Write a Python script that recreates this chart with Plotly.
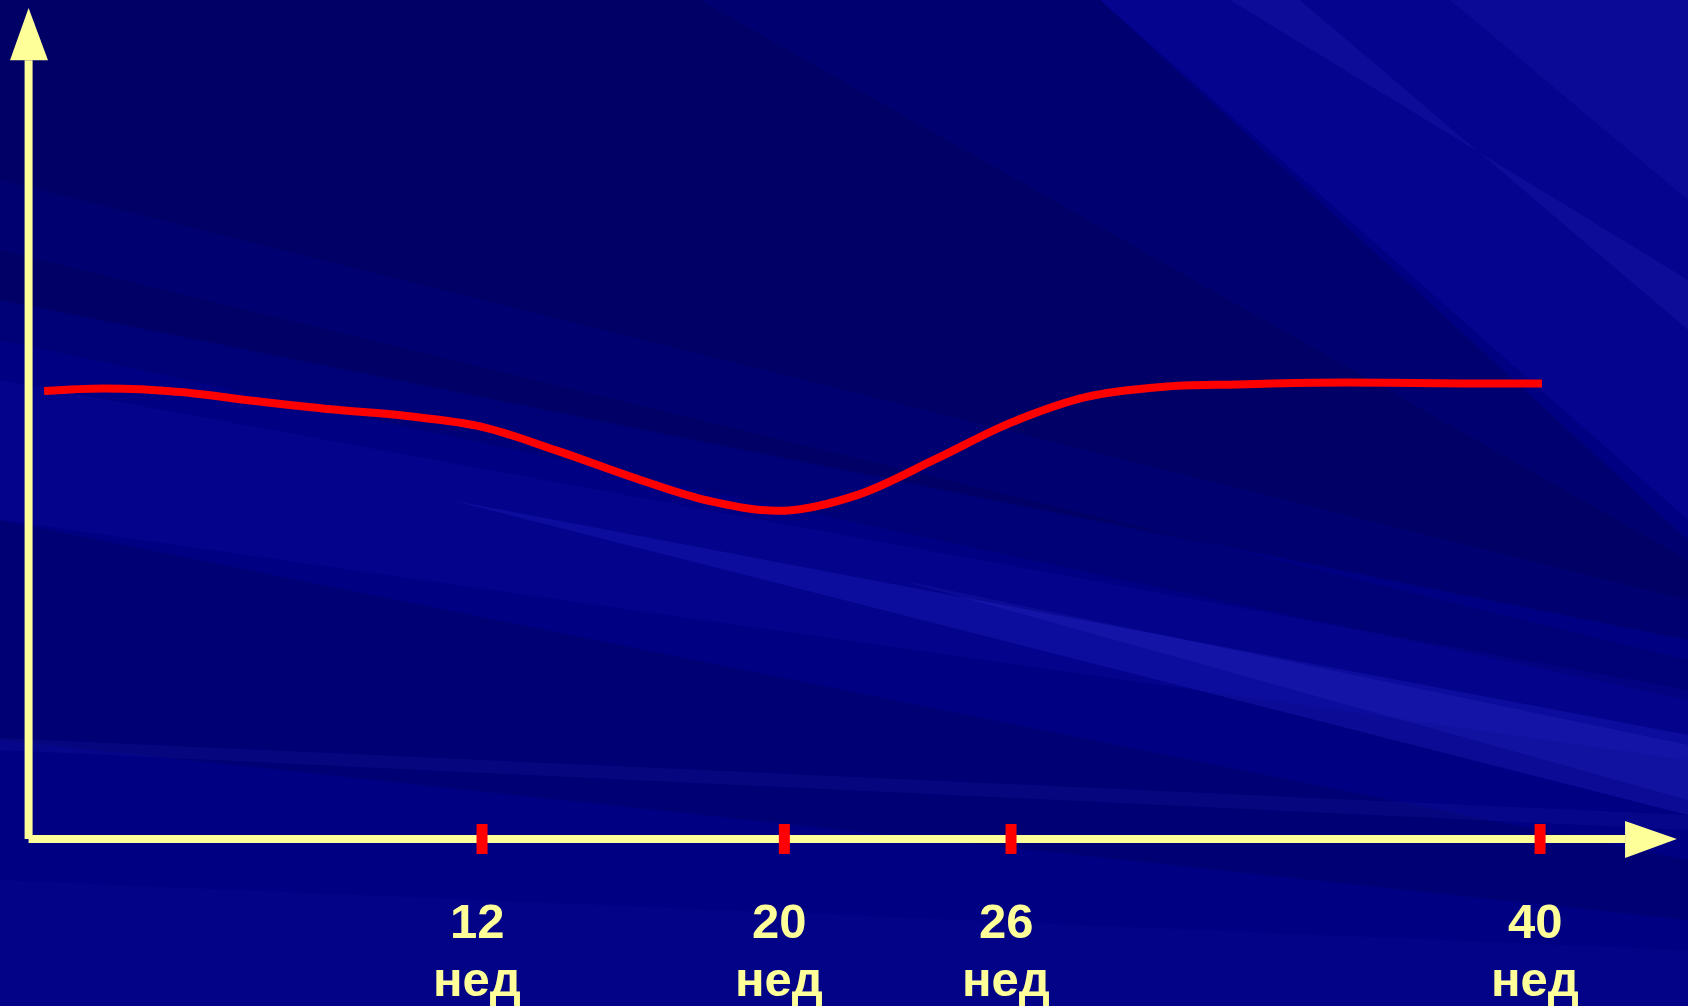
import plotly.graph_objects as go

# ---- data -------------------------------------------------------------
tick_weeks = [12, 20, 26, 40]
tick_labels = ["12", "20", "26", "40"]
unit_label = "нед"

curve_weeks = [0.41, 2, 4, 6, 8, 10, 12, 14, 16, 18, 20,
               22, 24, 26, 28, 30, 32, 34, 36, 38, 40.05]
curve_level = [53.9, 54.2, 53.8, 52.7, 51.7, 50.9, 49.6, 46.7, 43.5, 40.7, 39.5,
               41.5, 45.7, 50.1, 53.2, 54.4, 54.7, 54.9, 54.9, 54.8, 54.8]

# ---- styling ----------------------------------------------------------
W, H = 1688, 1006
X_RANGE = [-0.757, 43.915]
Y_RANGE = [-20.10, 100.96]
AXIS_COLOR = "#FFFF99"
CURVE_COLOR = "#FF0000"
BG = "#000082"

Y_AXIS_TOP = 93.7      # base of the vertical arrow head
Y_ARROW_TIP = 100.0
X_AXIS_END = 42.25     # base of the horizontal arrow head
X_ARROW_TIP = 43.62

fig = go.Figure()

# background rays (paper coordinates, pixel-style points converted)
def poly(points, color):
    d = "M " + " L ".join(f"{x / W:.4f},{1 - y / H:.4f}" for x, y in points) + " Z"
    return dict(type="path", xref="paper", yref="paper", path=d,
                fillcolor=color, line=dict(width=0), layer="below")

shapes = [
    # darker rays from the upper left
    poly([(0, 0), (1100, 0), (1688, 540), (1688, 640), (0, 300)], "rgba(0,0,40,0.20)"),
    poly([(0, 0), (700, 0), (1688, 560), (1688, 600), (0, 180)], "rgba(0,0,40,0.12)"),
    poly([(0, 250), (0, 340), (1688, 700), (1688, 660)], "rgba(0,0,40,0.12)"),
    poly([(0, 520), (0, 740), (1688, 920), (1688, 860)], "rgba(0,0,40,0.14)"),
    # lighter rays toward the lower right
    poly([(0, 380), (0, 520), (1688, 760), (1688, 690)], "rgba(40,40,255,0.08)"),
    poly([(450, 500), (1688, 735), (1688, 815)], "rgba(70,70,255,0.16)"),
    poly([(900, 580), (1688, 745), (1688, 800)], "rgba(90,90,255,0.10)"),
    poly([(0, 738), (0, 750), (1688, 830), (1688, 815)], "rgba(80,80,255,0.07)"),
    # streaks in the upper right
    poly([(1100, 0), (1688, 0), (1688, 520)], "rgba(40,40,255,0.10)"),
    poly([(1230, 0), (1300, 0), (1688, 330), (1688, 280)], "rgba(90,90,255,0.10)"),
    poly([(1450, 0), (1688, 0), (1688, 200)], "rgba(90,90,255,0.08)"),
    poly([(0, 880), (0, 1006), (1688, 1006), (1688, 950)], "rgba(30,30,200,0.10)"),
]

# axes: vertical and horizontal lines with arrow heads
shapes += [
    dict(type="line", x0=0, y0=0, x1=0, y1=Y_AXIS_TOP,
         line=dict(color=AXIS_COLOR, width=8)),
    dict(type="line", x0=0, y0=0, x1=X_AXIS_END, y1=0,
         line=dict(color=AXIS_COLOR, width=8)),
    dict(type="path",
         path=f"M -0.492,{Y_AXIS_TOP} L 0.513,{Y_AXIS_TOP} L 0,{Y_ARROW_TIP} Z",
         fillcolor=AXIS_COLOR, line=dict(width=0)),
    dict(type="path",
         path=f"M {X_AXIS_END},2.17 L {X_AXIS_END},-2.29 L {X_ARROW_TIP},0 Z",
         fillcolor=AXIS_COLOR, line=dict(width=0)),
]

# red tick marks on the time axis
for wk in tick_weeks:
    shapes.append(dict(type="rect", xsizemode="pixel", ysizemode="pixel",
                       xanchor=wk, yanchor=0, x0=-5.5, x1=5.5, y0=-15, y1=15,
                       fillcolor=CURVE_COLOR, line=dict(width=0)))

fig.add_trace(go.Scatter(
    x=curve_weeks, y=curve_level, mode="lines",
    line=dict(color=CURVE_COLOR, width=8, shape="spline", smoothing=1.0),
    hoverinfo="skip", showlegend=False,
))

annotations = []
label_font = dict(family="Liberation Sans, Arial", size=49, color=AXIS_COLOR, weight="bold")
for wk, lab in zip(tick_weeks, tick_labels):
    annotations.append(dict(x=wk, y=-9.9, text=lab, showarrow=False, xshift=-5,
                            xanchor="center", yanchor="middle", font=label_font))
    annotations.append(dict(x=wk, y=-16.9, text=unit_label, showarrow=False, xshift=-5,
                            xanchor="center", yanchor="middle", font=label_font))

fig.update_layout(
    width=W, height=H,
    margin=dict(l=0, r=0, t=0, b=0),
    paper_bgcolor=BG, plot_bgcolor="rgba(0,0,0,0)",
    xaxis=dict(range=X_RANGE, visible=False, fixedrange=True),
    yaxis=dict(range=Y_RANGE, visible=False, fixedrange=True),
    shapes=shapes, annotations=annotations,
    showlegend=False,
)

fig.write_html("out.html", config={"displayModeBar": False})
